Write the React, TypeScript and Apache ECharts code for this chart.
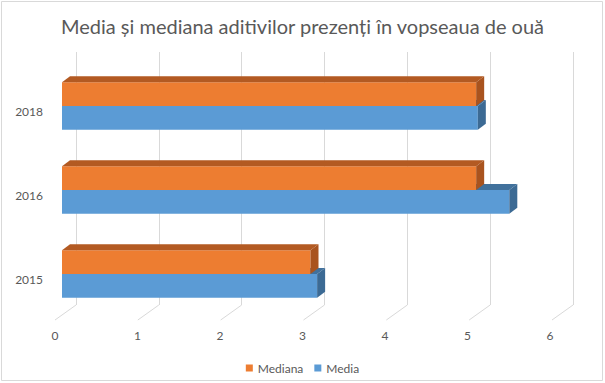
import React, { useEffect, useRef } from 'react';
import * as echarts from 'echarts';

const categories = ['2015', '2016', '2018'];
const mediaValues = [3.08, 5.4, 5.02];
const medianaValues = [3, 5, 5];
const xTicks = [0, 1, 2, 3, 4, 5, 6];
const titleText = 'Media și mediana aditivilor prezenți în vopseaua de ouă';

const FONT = 'Lato';
const TEXT = '#595959';
const GRID = '#d9d9d9';

export default function App() {
  const ref = useRef<HTMLDivElement>(null);
  useEffect(() => {
    const chart = echarts.init(ref.current!, null, { renderer: 'svg' });
    const DX = 8;
    const DY = -6;
    const makeBar = (front: string, top: string, side: string, upper: boolean) => (params: any, api: any) => {
      const v = api.value(0);
      const c = api.value(1);
      const p0 = api.coord([0, c]);
      const p1 = api.coord([v, c]);
      const band = api.size([0, 1])[1];
      const h = band * 0.282;
      const y0 = upper ? p0[1] - h : p0[1];
      const x0 = p0[0];
      const x1 = p1[0];
      return {
        type: 'group',
        children: [
          { type: 'rect', shape: { x: x0, y: y0, width: x1 - x0, height: h }, style: { fill: front } },
          { type: 'polygon', shape: { points: [[x0, y0], [x0 + DX, y0 + DY], [x1 + DX, y0 + DY], [x1, y0]] }, style: { fill: top } },
          { type: 'polygon', shape: { points: [[x1, y0], [x1 + DX, y0 + DY], [x1 + DX, y0 + h + DY], [x1, y0 + h]] }, style: { fill: side } },
        ],
      };
    };
    chart.setOption({
      animation: false,
      backgroundColor: '#ffffff',
      title: {
        text: titleText,
        left: 'center',
        top: 11,
        textStyle: { fontSize: 20, fontWeight: 'normal', color: TEXT, fontFamily: FONT },
      },
      graphic: [
        { type: 'rect', shape: { x: 1.5, y: 1.5, width: 601, height: 379 }, style: { fill: 'none', stroke: GRID, lineWidth: 1 }, silent: true },
      ],
      legend: {
        data: ['Mediana', 'Media'],
        top: 357,
        left: 'center',
        icon: 'rect',
        itemWidth: 7,
        itemHeight: 7,
        itemGap: 11,
        textStyle: { color: TEXT, fontSize: 12, fontFamily: FONT },
      },
      grid: [
        { left: 76, width: 497, top: 52, bottom: 78 },
        { left: 62, width: 497, top: 64, bottom: 67 },
        { left: 55, width: 495, top: 300, bottom: 63 },
        { left: 62, width: 497, top: 69, bottom: 62 },
      ],
      xAxis: [
        {
          gridIndex: 0, type: 'value', min: 0, max: 6, interval: 1,
          axisLine: { show: false }, axisTick: { show: false }, axisLabel: { show: false },
          splitLine: { show: true, lineStyle: { color: GRID, width: 1 } },
        },
        { gridIndex: 1, type: 'value', min: 0, max: 6, show: false },
        {
          gridIndex: 2, type: 'value', min: 0, max: 6, interval: 1,
          axisLine: { show: false }, axisTick: { show: false }, splitLine: { show: false },
          axisLabel: { color: TEXT, fontSize: 12, fontFamily: FONT, margin: 9 },
        },
        { gridIndex: 3, type: 'value', min: 0, max: 6, show: false },
      ],
      yAxis: [
        { gridIndex: 0, type: 'value', min: 0, max: 1, show: false },
        { gridIndex: 1, type: 'category', data: categories, show: false },
        { gridIndex: 2, type: 'value', min: 0, max: 1, show: false },
        {
          gridIndex: 3, type: 'category', data: categories,
          axisLine: { show: false }, axisTick: { show: false }, splitLine: { show: false },
          axisLabel: { color: TEXT, fontSize: 12, fontFamily: FONT, margin: 19 },
        },
      ],
      series: [
        {
          type: 'custom',
          name: 'floor',
          xAxisIndex: 0,
          yAxisIndex: 0,
          silent: true,
          data: xTicks.map((t) => [t, 0]),
          renderItem: (params: any, api: any) => {
            const p = api.coord([api.value(0), 0]);
            return {
              type: 'line',
              shape: { x1: p[0], y1: p[1], x2: p[0] - 21, y2: p[1] + 15 },
              style: { stroke: GRID, lineWidth: 1 },
            };
          },
        },
        {
          type: 'custom',
          name: 'Media',
          xAxisIndex: 1,
          yAxisIndex: 1,
          itemStyle: { color: '#5B9BD5' },
          encode: { x: 0, y: 1 },
          data: mediaValues.map((v, i) => [v, i]),
          renderItem: makeBar('#5B9BD5', '#41719C', '#3C6A94', false),
        },
        {
          type: 'custom',
          name: 'Mediana',
          xAxisIndex: 1,
          yAxisIndex: 1,
          itemStyle: { color: '#ED7D31' },
          encode: { x: 0, y: 1 },
          data: medianaValues.map((v, i) => [v, i]),
          renderItem: makeBar('#ED7D31', '#B35A22', '#A9531E', true),
        },
      ],
    });
    return () => chart.dispose();
  }, []);
  return <div ref={ref} style={{ position: 'absolute', left: 0, top: 0, width: 605, height: 383 }} />;
}
